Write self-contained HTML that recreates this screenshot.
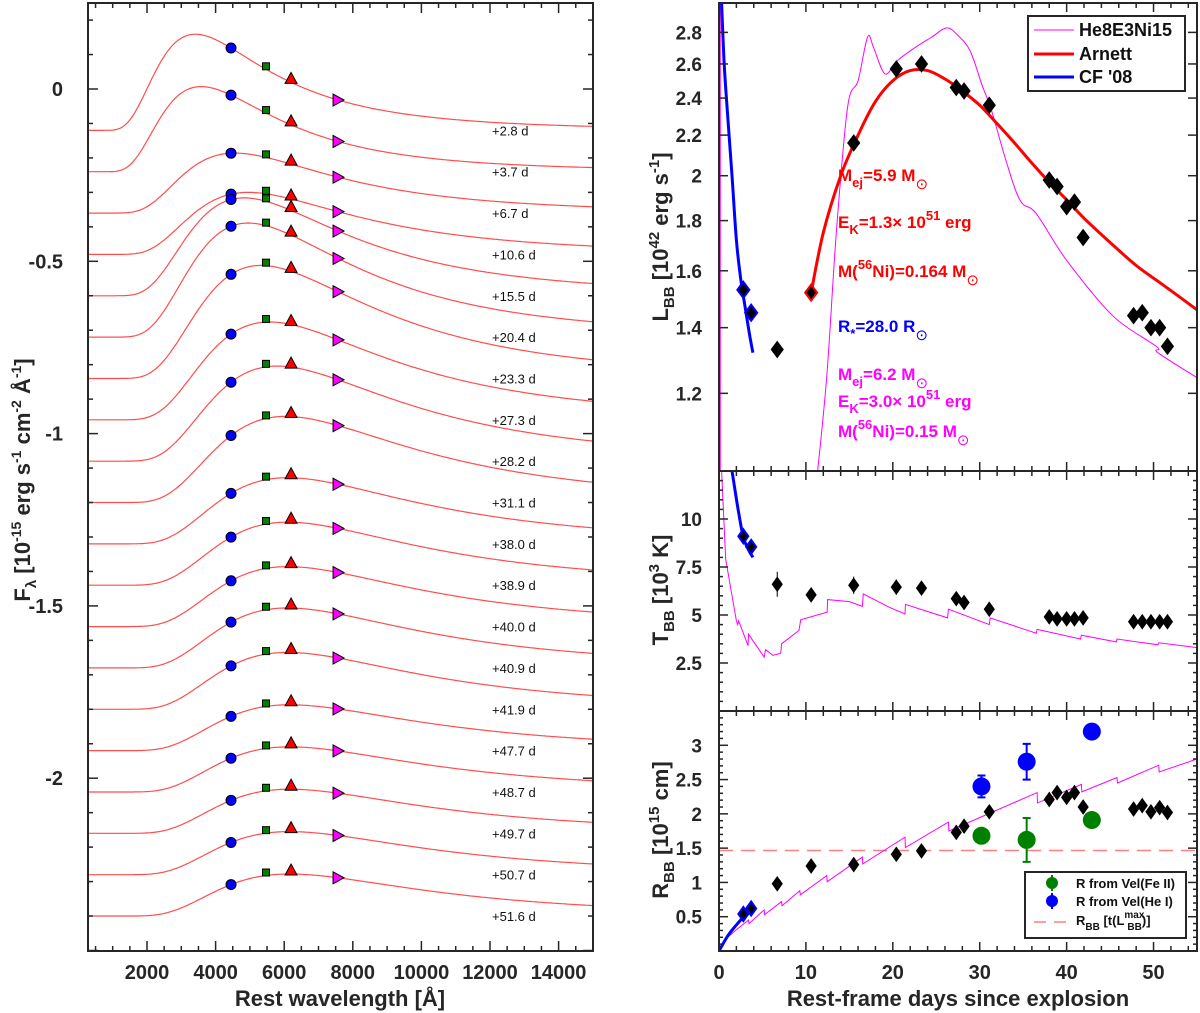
<!DOCTYPE html>
<html><head><meta charset="utf-8"><style>
html,body{margin:0;padding:0;background:#fff;}
svg{display:block;font-family:"Liberation Sans",Arial,sans-serif;}
</style></head><body>
<svg id="fig" width="1200" height="1013" viewBox="0 0 1200 1013" xmlns="http://www.w3.org/2000/svg"></svg>
<script>
// ---------------- DATA ----------------
const epochLabels = ["+2.8 d","+3.7 d","+6.7 d","+10.6 d","+15.5 d","+20.4 d","+23.3 d","+27.3 d","+28.2 d","+31.1 d","+38.0 d","+38.9 d","+40.0 d","+40.9 d","+41.9 d","+47.7 d","+48.7 d","+49.7 d","+50.7 d","+51.6 d"];
const specOffsets = [-0.12,-0.24,-0.36,-0.48,-0.60,-0.72,-0.84,-0.96,-1.08,-1.20,-1.32,-1.44,-1.56,-1.68,-1.80,-1.92,-2.04,-2.16,-2.28,-2.40];
const specAmps = [0.279,0.247,0.174,0.18,0.284,0.331,0.328,0.284,0.276,0.25,0.192,0.183,0.174,0.174,0.165,0.133,0.131,0.128,0.125,0.122];
const specTemps = [8500,8100,6350,5850,6000,5850,5450,5200,5000,4800,4750,4750,4750,4750,4750,4700,4700,4700,4700,4700];
const bandWaves = [4450,5470,6200,7570];
const leftXTicks = [2000,4000,6000,8000,10000,12000,14000];
const leftYTicks = [0,-0.5,-1,-1.5,-2];
const leftYTickLabels = ["0","-0.5","-1","-1.5","-2"];

const days = [2.8,3.7,6.7,10.6,15.5,20.4,23.3,27.3,28.2,31.1,38.0,38.9,40.0,40.9,41.9,47.7,48.7,49.7,50.7,51.6];
const lbb = [1.53,1.45,1.33,1.52,2.16,2.57,2.60,2.46,2.44,2.36,1.98,1.95,1.86,1.88,1.73,1.44,1.45,1.40,1.40,1.34];
const tbb = [9.1,8.55,6.6,6.05,6.55,6.45,6.4,5.85,5.65,5.3,4.9,4.8,4.8,4.8,4.85,4.65,4.65,4.65,4.65,4.65];
const tbbErr = [0.3,0.35,0.65,0.35,0.45,0.4,0.35,0.35,0.3,0.3,0.15,0.15,0.15,0.15,0.15,0.15,0.15,0.15,0.15,0.15];
const rbb = [0.54,0.62,0.98,1.24,1.26,1.41,1.46,1.73,1.82,2.03,2.21,2.31,2.24,2.31,2.10,2.07,2.12,2.03,2.09,2.02];

const arnettT = [10.6,12,14,16,18,20,22,24,26,28,30,32,34,36,38,40,42,45,48,51,55];
const arnettL = [1.52,1.75,2.0,2.2,2.38,2.50,2.56,2.56,2.51,2.44,2.36,2.26,2.16,2.06,1.97,1.89,1.81,1.71,1.62,1.55,1.46];
const cfLT = [0.3,0.6,1.0,1.5,2.0,2.5,3.0,3.5,3.9];
const cfLV = [3.0,2.6,2.3,2.0,1.72,1.57,1.47,1.38,1.32];
const modLT = [11.3,12.4,13.5,14.8,16,17.1,17.8,19.1,20.5,22.5,24.5,26.2,27.5,28.9,30.3,31.3,32.9,34.6,36.5,40,45.3,50.3,50.5,55];
const modLV = [0.99,1.25,1.75,2.35,2.5,2.77,2.7,2.54,2.62,2.7,2.77,2.83,2.78,2.68,2.47,2.34,2.09,1.89,1.83,1.64,1.44,1.34,1.32,1.245];

const cfTT = [1.5,2.2,2.8,3.4,3.9];
const cfTV = [12.5,10.5,9.05,8.4,8.0];
const modTT = [0.3,0.77,2.0,2.15,2.25,3.35,3.4,5.2,5.35,6.2,7.1,7.2,9.2,9.4,12.45,12.5,15.0,16.5,16.6,19.6,21.4,21.45,26.3,26.4,31.1,31.2,36.5,36.6,41.6,41.7,45.7,45.8,50.5,50.6,55];
const modTV = [12.5,7.9,4.7,4.5,4.7,3.4,4.0,2.8,3.2,2.9,3.0,3.5,4.2,4.75,5.15,5.8,5.7,5.45,6.1,5.4,5.05,5.55,4.85,5.3,4.5,4.85,4.05,4.25,3.75,3.95,3.6,3.75,3.45,3.55,3.3];

const cfRT = [0,1,2,3,3.9];
const cfRV = [0,0.22,0.38,0.52,0.62];
const modRT = [0,1,2,3.4,3.45,5.2,5.25,7.2,7.25,9.3,9.35,12.4,12.45,16.5,16.55,21.4,21.45,26.4,26.45,36.6,36.65,41.7,41.75,45.8,45.85,50.6,50.65,55];
const modRV = [0,0.2,0.31,0.45,0.40,0.60,0.53,0.72,0.66,0.88,0.82,1.10,1.01,1.37,1.27,1.66,1.51,1.88,1.75,2.31,2.16,2.43,2.32,2.53,2.45,2.71,2.61,2.80];
const feDays = [30.2,35.4,42.9];
const feR = [1.68,1.62,1.91];
const feErr = [0.05,0.32,0.05];
const heDays = [30.2,35.4,42.9];
const heR = [2.40,2.76,3.20];
const heErr = [0.16,0.26,0.0];
const rMaxLine = 1.465;

const lTicks = [1.2,1.4,1.6,1.8,2,2.2,2.4,2.6,2.8];
const lTickLabels = ["1.2","1.4","1.6","1.8","2","2.2","2.4","2.6","2.8"];
const tTicks = [2.5,5,7.5,10];
const tTickLabels = ["2.5","5","7.5","10"];
const rTicks = [0.5,1,1.5,2,2.5,3];
const rTickLabels = ["0.5","1","1.5","2","2.5","3"];
const dayTicks = [0,10,20,30,40,50];

// ---------------- SCALES ----------------
const NS="http://www.w3.org/2000/svg";
const svg=document.getElementById('fig');
function mk(tag,attrs,parent){const e=document.createElementNS(NS,tag);for(const k in attrs)e.setAttribute(k,attrs[k]);(parent||svg).appendChild(e);return e;}
const LX0=88,LX1=593,TOP=3,BOT=951;
const lx=l=>147+(l-2000)*0.0343;
const ly=v=>89-v*344.6;
const RX0=719,RX1=1197;
const dx=d=>RX0+d*(RX1-RX0)/55;
const P1T=3,P1B=471,P2B=711;
const yL=v=>P1B-(Math.log(v)-Math.log(1.0))/(Math.log(3.0)-Math.log(1.0))*(P1B-P1T);
const yT=v=>P2B-v*(P2B-P1B)/12.5;
const yR=v=>BOT-v*(BOT-P2B)/3.5;
const INK="#262626";

function planck(l,T){return Math.pow(l,-5)/(Math.exp(1.4388e8/(l*T))-1);}

// ---------------- LEFT PANEL ----------------
const gL=mk('g',{});


const clipL=mk('clipPath',{id:'clipL'});mk('rect',{x:LX0,y:TOP,width:LX1-LX0,height:BOT-TOP},clipL);
const gSpec=mk('g',{'clip-path':'url(#clipL)'},gL);
for(let i=0;i<epochLabels.length;i++){
  const T=specTemps[i],lp=2.898e7/T,pk=planck(lp,T);
  const f=l=>specOffsets[i]+specAmps[i]*planck(l,T)/pk;
  let d='';
  for(let l=250;l<=15050;l+=50){d+=(l===250?'M':'L')+lx(l).toFixed(1)+','+ly(f(l)).toFixed(1);}
  const p=mk('path',{d:d,fill:'none',stroke:'#ff4d4d','stroke-width':1.2},gSpec);
  
  
  const t=mk('text',{x:492,y:ly(specOffsets[i])+5,'font-size':13,fill:'#111'},gL);
  t.textContent=epochLabels[i];
  
  
  // markers
  const bx=lx(bandWaves[0]),by=ly(f(bandWaves[0]));
  const c=mk('circle',{cx:bx,cy:by,r:5,fill:'#0000ff',stroke:'#000','stroke-width':1},gL);
  
  
  const sx=lx(bandWaves[1]),sy=ly(f(bandWaves[1]))-3;
  const s=mk('rect',{x:sx-3.5,y:sy-3.5,width:7,height:7,fill:'#008000',stroke:'#000','stroke-width':1},gL);
  
  
  const tx=lx(bandWaves[2]),ty=ly(f(bandWaves[2]))-3;
  const tr=mk('polygon',{points:`${tx},${ty-7} ${tx-6},${ty+4} ${tx+6},${ty+4}`,fill:'#ff0000',stroke:'#000','stroke-width':1},gL);
  
  
  const mx=lx(bandWaves[3]),my=ly(f(bandWaves[3]));
  const mt=mk('polygon',{points:`${mx-5},${my-6} ${mx+6},${my} ${mx-5},${my+6}`,fill:'#ff00ff',stroke:'#000','stroke-width':1},gL);
  
  
}
// left frame & ticks
const fL=mk('rect',{x:LX0,y:TOP,width:LX1-LX0,height:BOT-TOP,fill:'none',stroke:INK,'stroke-width':2},gL);


for(let l=500;l<15000;l+=500){
  const len=(l%2000===0)?10:5,x=lx(l);
  mk('line',{x1:x,y1:BOT,x2:x,y2:BOT-len,stroke:INK,'stroke-width':1.5},gL);
  mk('line',{x1:x,y1:TOP,x2:x,y2:TOP+len,stroke:INK,'stroke-width':1.5},gL);
}
for(let k=-25;k<=2;k++){
  const v=k/10,len=(k%5===0)?10:5,y=ly(v);
  mk('line',{x1:LX0,y1:y,x2:LX0+len,y2:y,stroke:INK,'stroke-width':1.5},gL);
  mk('line',{x1:LX1,y1:y,x2:LX1-len,y2:y,stroke:INK,'stroke-width':1.5},gL);
}
leftXTicks.forEach(l=>{const t=mk('text',{x:lx(l),y:979,'text-anchor':'middle','font-size':20,'font-weight':'bold',fill:INK},gL);t.textContent=l;

});
leftYTicks.forEach((v,i)=>{const t=mk('text',{x:63,y:ly(v)+7,'text-anchor':'end','font-size':20,'font-weight':'bold',fill:INK},gL);t.textContent=leftYTickLabels[i];

});
const xtL=mk('text',{x:340,y:1006,'text-anchor':'middle','font-size':22,'font-weight':'bold',fill:INK},gL);
xtL.textContent='Rest wavelength [Å]';


const ytL=mk('text',{transform:'translate(30,480) rotate(-90)','text-anchor':'middle','font-size':22,'font-weight':'bold',fill:INK},gL);
ytL.innerHTML='F<tspan font-size="15" dy="6">λ</tspan><tspan dy="-6"> [10</tspan><tspan font-size="14" dy="-9">-15</tspan><tspan dy="9"> erg s</tspan><tspan font-size="14" dy="-9">-1</tspan><tspan dy="9"> cm</tspan><tspan font-size="14" dy="-9">-2</tspan><tspan dy="9"> Å</tspan><tspan font-size="14" dy="-9">-1</tspan><tspan dy="9">]</tspan>';



// ---------------- RIGHT PANELS ----------------
function smoothPath(xs,ys){
  const pts=xs.map((x,i)=>[x,ys[i]]);let d='M'+pts[0][0].toFixed(1)+','+pts[0][1].toFixed(1);
  for(let i=0;i<pts.length-1;i++){
    const p0=pts[i-1]||pts[i],p1=pts[i],p2=pts[i+1],p3=pts[i+2]||p2;
    const c1=[p1[0]+(p2[0]-p0[0])/6,p1[1]+(p2[1]-p0[1])/6],c2=[p2[0]-(p3[0]-p1[0])/6,p2[1]-(p3[1]-p1[1])/6];
    d+=`C${c1[0].toFixed(1)},${c1[1].toFixed(1)} ${c2[0].toFixed(1)},${c2[1].toFixed(1)} ${p2[0].toFixed(1)},${p2[1].toFixed(1)}`;
  }return d;
}
function polyPath(xs,ys){return xs.map((x,i)=>(i?'L':'M')+x.toFixed(1)+','+ys[i].toFixed(1)).join('');}
function diamond(g,x,y,w,h,stroke,name){
  const p=mk('polygon',{points:`${x},${y-h} ${x+w},${y} ${x},${y+h} ${x-w},${y}`,fill:'#000',stroke:stroke||'#000','stroke-width':stroke?2:1},g);
  
  
}
function panelFrame(g,y0,y1,name){
  const r=mk('rect',{x:RX0,y:y0,width:RX1-RX0,height:y1-y0,fill:'none',stroke:INK,'stroke-width':2},g);
  
  
  for(let d=2;d<55;d+=2){const len=(d%10===0)?9:5,x=dx(d);
    mk('line',{x1:x,y1:y1,x2:x,y2:y1-len,stroke:INK,'stroke-width':1.5},g);
    mk('line',{x1:x,y1:y0,x2:x,y2:y0+len,stroke:INK,'stroke-width':1.5},g);}
}
function yTick(g,y,len){mk('line',{x1:RX0,y1:y,x2:RX0+len,y2:y,stroke:INK,'stroke-width':1.5},g);mk('line',{x1:RX1,y1:y,x2:RX1-len,y2:y,stroke:INK,'stroke-width':1.5},g);}
function yLabel(g,y,txt){const t=mk('text',{x:702,y:y+7,'text-anchor':'end','font-size':19,'font-weight':'bold',fill:INK},g);t.textContent=txt;

}

// --- Panel 1: L_BB
const g1=mk('g',{});


mk('clipPath',{id:'clip1'});mk('rect',{x:RX0,y:P1T,width:RX1-RX0,height:P1B-P1T},svg.lastChild);
const g1c=mk('g',{'clip-path':'url(#clip1)'},g1);
mk('line',{x1:RX0+1,y1:P1T,x2:RX0+1,y2:P1B,stroke:'#ff00ff','stroke-width':1.5},g1c);
const m1=mk('path',{d:smoothPath(modLT.map(dx),modLV.map(yL)),fill:'none',stroke:'#ff00ff','stroke-width':1},g1c);


const a1=mk('path',{d:smoothPath(arnettT.map(dx),arnettL.map(yL)),fill:'none',stroke:'#ff0000','stroke-width':3},g1c);


const c1=mk('path',{d:smoothPath(cfLT.map(dx),cfLV.map(yL)),fill:'none',stroke:'#0000ff','stroke-width':3},g1c);


days.forEach((d,i)=>diamond(g1,dx(d),yL(lbb[i]),6,8,i<2?'#0000ff':(i===3?'#ff0000':null),'lbb-point'));
panelFrame(g1,P1T,P1B,'luminosity-axes-frame');
lTicks.forEach((v,i)=>{yTick(g1,yL(v),9);yLabel(g1,yL(v),lTickLabels[i]);});
function annot(y,color,html,name){const t=mk('text',{x:838,y:y,'font-size':17,'font-weight':'bold',fill:color},g1);t.innerHTML=html;

}
const SUN='<tspan font-weight="normal" font-size="15" dy="8">⊙</tspan>';
annot(181,'#ff0000','M<tspan font-size="13" dy="6">ej</tspan><tspan dy="-6">=5.9 M</tspan>'+SUN,'arnett-mej-label');
annot(228,'#ff0000','E<tspan font-size="13" dy="6">K</tspan><tspan dy="-6">=1.3× 10</tspan><tspan font-size="13" dy="-8">51</tspan><tspan dy="8"> erg</tspan>','arnett-ek-label');
annot(277,'#ff0000','M(<tspan font-size="13" dy="-8">56</tspan><tspan dy="8">Ni)=0.164 M</tspan>'+SUN,'arnett-ni-label');
annot(332,'#0000ff','R<tspan font-size="13" dy="6">*</tspan><tspan dy="-6">=28.0 R</tspan>'+SUN,'cf08-radius-label');
annot(380,'#ff00ff','M<tspan font-size="13" dy="6">ej</tspan><tspan dy="-6">=6.2 M</tspan>'+SUN,'model-mej-label');
annot(407,'#ff00ff','E<tspan font-size="13" dy="6">K</tspan><tspan dy="-6">=3.0× 10</tspan><tspan font-size="13" dy="-8">51</tspan><tspan dy="8"> erg</tspan>','model-ek-label');
annot(437,'#ff00ff','M(<tspan font-size="13" dy="-8">56</tspan><tspan dy="8">Ni)=0.15 M</tspan>'+SUN,'model-ni-label');
// legend 1
const lg1=mk('g',{},g1);


mk('rect',{x:1028,y:16,width:157,height:75,fill:'#fff',stroke:INK,'stroke-width':2},lg1);
[['He8E3Ni15','#ff00ff',1,30],['Arnett','#ff0000',3,54],['CF \'08','#0000ff',3,77]].forEach(e=>{
  const it=mk('g',{},lg1);
  
  
  mk('line',{x1:1034,y1:e[3],x2:1074,y2:e[3],stroke:e[1],'stroke-width':e[2]},it);
  const t=mk('text',{x:1079,y:e[3]+6,'font-size':18,'font-weight':'bold',fill:'#111'},it);t.textContent=e[0];
});
const yt1=mk('text',{transform:'translate(668,237) rotate(-90)','text-anchor':'middle','font-size':22,'font-weight':'bold',fill:INK},g1);
yt1.innerHTML='L<tspan font-size="15" dy="6">BB</tspan><tspan dy="-6"> [10</tspan><tspan font-size="15" dy="-9">42</tspan><tspan dy="9"> erg s</tspan><tspan font-size="15" dy="-9">-1</tspan><tspan dy="9">]</tspan>';



// --- Panel 2: T_BB
const g2=mk('g',{});


mk('clipPath',{id:'clip2'});mk('rect',{x:RX0,y:P1B,width:RX1-RX0,height:P2B-P1B},svg.lastChild);
const g2c=mk('g',{'clip-path':'url(#clip2)'},g2);
const m2=mk('path',{d:polyPath(modTT.map(dx),modTV.map(yT)),fill:'none',stroke:'#ff00ff','stroke-width':1},g2c);


const c2=mk('path',{d:smoothPath(cfTT.map(dx),cfTV.map(yT)),fill:'none',stroke:'#0000ff','stroke-width':3},g2c);


days.forEach((d,i)=>{
  const e=mk('line',{x1:dx(d),y1:yT(tbb[i]+tbbErr[i]),x2:dx(d),y2:yT(tbb[i]-tbbErr[i]),stroke:'#000','stroke-width':1},g2);
  
  
  diamond(g2,dx(d),yT(tbb[i]),5,7,i<2?'#0000ff':null,'tbb-point');
});
panelFrame(g2,P1B,P2B,'temperature-axes-frame');
for(let v=0.5;v<12.5;v+=0.5){yTick(g2,yT(v),(Math.abs(v%2.5)<1e-6)?9:4);}
tTicks.forEach((v,i)=>yLabel(g2,yT(v),tTickLabels[i]));
const yt2=mk('text',{transform:'translate(668,590) rotate(-90)','text-anchor':'middle','font-size':22,'font-weight':'bold',fill:INK},g2);
yt2.innerHTML='T<tspan font-size="15" dy="6">BB</tspan><tspan dy="-6"> [10</tspan><tspan font-size="15" dy="-9">3</tspan><tspan dy="9"> K]</tspan>';



// --- Panel 3: R_BB
const g3=mk('g',{});


mk('clipPath',{id:'clip3'});mk('rect',{x:RX0,y:P2B,width:RX1-RX0,height:BOT-P2B},svg.lastChild);
const g3c=mk('g',{'clip-path':'url(#clip3)'},g3);
const dl=mk('line',{x1:RX0,y1:yR(rMaxLine),x2:RX1,y2:yR(rMaxLine),stroke:'#ff8080','stroke-width':1.5,'stroke-dasharray':'14,8'},g3c);


const m3=mk('path',{d:polyPath(modRT.map(dx),modRV.map(yR)),fill:'none',stroke:'#ff00ff','stroke-width':1},g3c);


const c3=mk('path',{d:smoothPath(cfRT.map(dx),cfRV.map(yR)),fill:'none',stroke:'#0000ff','stroke-width':3},g3c);


days.forEach((d,i)=>diamond(g3,dx(d),yR(rbb[i]),5,7,i<2?'#0000ff':null,'rbb-point'));
function velPts(ds,rs,es,col,name){
  ds.forEach((d,i)=>{
    if(es[i]>0.06){const x=dx(d);
      const eb=mk('path',{d:`M${x},${yR(rs[i]+es[i])}L${x},${yR(rs[i]-es[i])}M${x-4},${yR(rs[i]+es[i])}L${x+4},${yR(rs[i]+es[i])}M${x-4},${yR(rs[i]-es[i])}L${x+4},${yR(rs[i]-es[i])}`,stroke:col,'stroke-width':2},g3);
      
      }
    const c=mk('circle',{cx:dx(d),cy:yR(rs[i]),r:9,fill:col},g3);
    
    
  });
}
velPts(feDays,feR,feErr,'#008000','feii-radius');
velPts(heDays,heR,heErr,'#0000ff','hei-radius');
panelFrame(g3,P2B,BOT,'radius-axes-frame');
for(let v=0.1;v<3.5;v+=0.1){yTick(g3,yR(v),(Math.abs((v*10)%5)<1e-6||Math.abs((v*10)%5-5)<1e-6)?9:4);}
rTicks.forEach((v,i)=>yLabel(g3,yR(v),rTickLabels[i]));
const lg3=mk('g',{},g3);


mk('rect',{x:1025,y:872,width:161,height:66,fill:'#fff',stroke:INK,'stroke-width':2},lg3);
[['R from Vel(Fe II)','#008000',883],['R from Vel(He I)','#0000ff',901]].forEach(e=>{
  const it=mk('g',{},lg3);
  
  
  mk('circle',{cx:1052,cy:e[2],r:6,fill:e[1]},it);
  mk('line',{x1:1052,y1:e[2]-8,x2:1052,y2:e[2]+8,stroke:e[1],'stroke-width':2},it);
  const t=mk('text',{x:1076,y:e[2]+5,'font-size':13,'font-weight':'bold',fill:'#111'},it);t.textContent=e[0];
});
const it3=mk('g',{},lg3);


mk('line',{x1:1034,y1:922,x2:1068,y2:922,stroke:'#ff8080','stroke-width':1.5,'stroke-dasharray':'12,8'},it3);
const t3=mk('text',{x:1076,y:925,'font-size':13,'font-weight':'bold',fill:'#111'},it3);
t3.innerHTML='R<tspan font-size="10" dy="5">BB</tspan><tspan dy="-5"> [t(L</tspan><tspan font-size="10" dy="-7">max</tspan><tspan font-size="10" dx="-17" dy="12">BB</tspan><tspan dy="-5">)]</tspan>';
const yt3=mk('text',{transform:'translate(668,830) rotate(-90)','text-anchor':'middle','font-size':22,'font-weight':'bold',fill:INK},g3);
yt3.innerHTML='R<tspan font-size="15" dy="6">BB</tspan><tspan dy="-6"> [10</tspan><tspan font-size="15" dy="-9">15</tspan><tspan dy="9"> cm]</tspan>';



dayTicks.forEach(d=>{const t=mk('text',{x:dx(d),y:979,'text-anchor':'middle','font-size':20,'font-weight':'bold',fill:INK});t.textContent=d;

});
const xtR=mk('text',{x:958,y:1006,'text-anchor':'middle','font-size':22,'font-weight':'bold',fill:INK});
xtR.textContent='Rest-frame days since explosion';


</script>
</body></html>
